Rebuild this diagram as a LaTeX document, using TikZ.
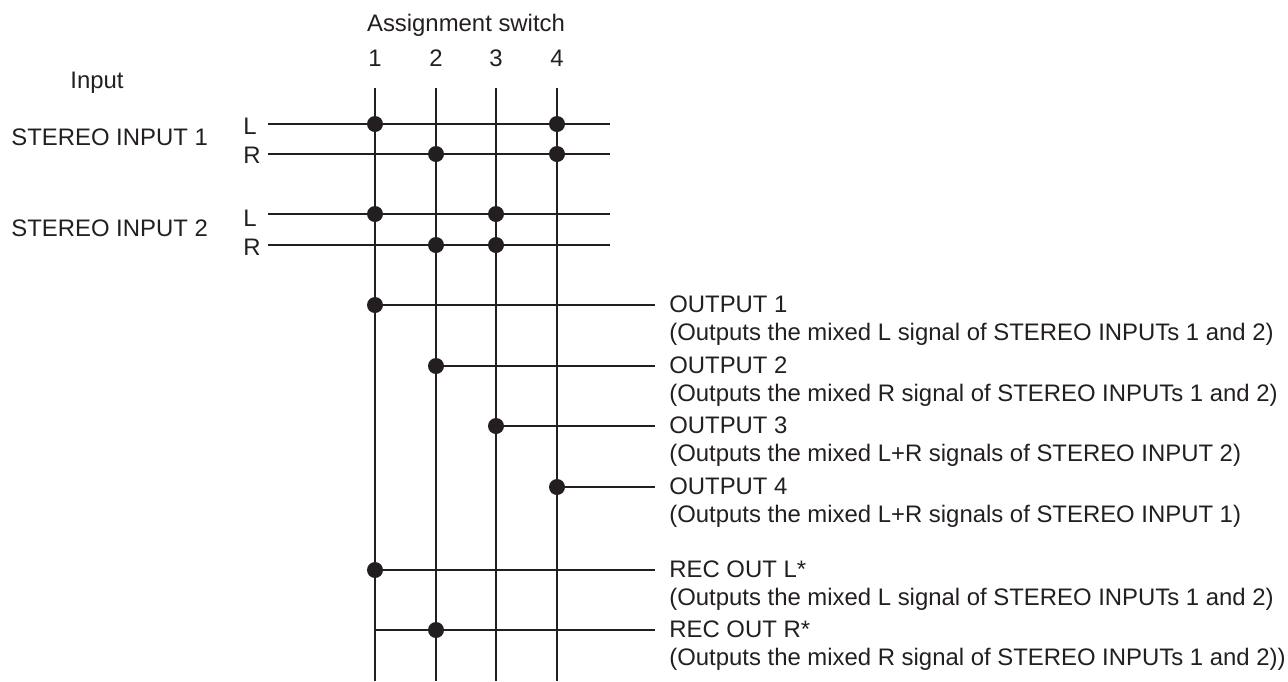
\documentclass[tikz,border=0pt]{standalone}
\usepackage{fontspec}
\setmainfont{Liberation Sans}
\definecolor{inkblack}{HTML}{231F20}
\tikzset{
    wire/.style={line width=1.5pt,inkblack},
    dotnode/.style={fill=inkblack,circle,inner sep=0pt,minimum size=0.32cm},
    lbl/.style={inner sep=0pt,anchor=west,text=inkblack,font=\fontsize{13.6}{15.9}\selectfont,align=left},
    lblc/.style={inner sep=0pt,anchor=center,text=inkblack,font=\fontsize{13.6}{15.9}\selectfont},
}
\begin{document}
\begin{tikzpicture}[x=0.02cm,y=-0.02cm]
            \useasboundingbox (0,0) rectangle (1288,681);

            \node[lblc] at (466,25) (title) {Assignment switch};
            \node[lblc] at (97,83) (input) {Input};

        % switch columns
        \foreach \n/\x in {1/375,2/436,3/496,4/557} {
            \node[lblc] at (\x,58) (num\n) {\n};
            \coordinate (top\n) at (\x,88);
            \coordinate (bot\n) at (\x,681);
            \draw[wire] (top\n) -- (bot\n);
        }

        % input lines
        \foreach \n/\y/\ly/\t in {a/124/126/L,b/154/155/R,c/214/218/L,d/245/247/R} {
            \node[lbl] at (243,\ly) (lab\n) {\t};
            \coordinate (start\n) at (268,\y);
            \coordinate (end\n) at (610,\y);
            \draw[wire] (start\n) -- (end\n);
        }

            \node[lbl] at (11,137) (st1) {STEREO INPUT 1};
            \node[lbl] at (11,228) (st2) {STEREO INPUT 2};

        \foreach \n/\x/\y in {a1/375/124,a4/557/124,b2/436/154,b4/557/154,c1/375/214,c3/496/214,d2/436/245,d3/496/245}
            \node[dotnode] at (\x,\y) (\n) {};

        % outputs
        \foreach \n/\x/\xs/\y/\t/\s in {
            o1/375/375/305/OUTPUT 1/(Outputs the mixed L signal of STEREO INPUTs 1 and 2),
            o2/436/436/366/OUTPUT 2/(Outputs the mixed R signal of STEREO INPUTs 1 and 2),
            o3/496/496/426/OUTPUT 3/(Outputs the mixed L+R signals of STEREO INPUT 2),
            o4/557/557/487/OUTPUT 4/(Outputs the mixed L+R signals of STEREO INPUT 1),
            r1/375/375/570/REC OUT L*/(Outputs the mixed L signal of STEREO INPUTs 1 and 2),
            r2/436/375/630/REC OUT R*/(Outputs the mixed R signal of STEREO INPUTs 1 and 2))} {
            \node[dotnode] at (\x,\y) (\n) {};
            \node[lbl] at (669,\y+16) (t\n) {\t\\\s};
            \coordinate (s\n) at (\xs,\y);
            \coordinate (e\n) at (655,\y);
            \draw[wire] (s\n) -- (e\n);
        }
\end{tikzpicture}
\end{document}
